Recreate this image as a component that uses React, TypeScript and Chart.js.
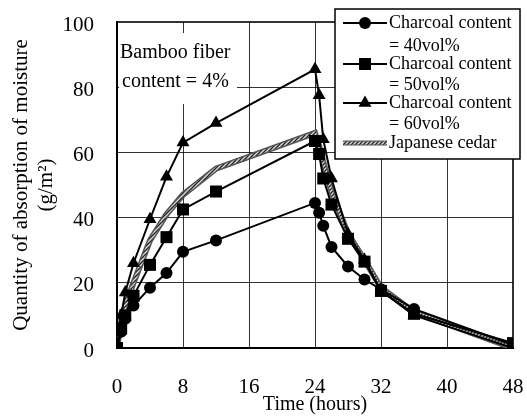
import React, { useEffect, useRef } from 'react';
import { Chart, registerables } from 'chart.js';

Chart.register(...registerables);

const timeHours = [0, 0.5, 1, 2, 4, 6, 8, 12, 24, 24.5, 25, 26, 28, 30, 32, 36, 48];
const charcoal40 = [0, 5, 9, 13, 18.5, 23, 29.5, 33, 44.5, 41.5, 37.5, 31, 25, 21, 18, 12, 1];
const charcoal50 = [0, 6, 10, 16, 25.5, 34, 42.5, 48, 63.5, 59.5, 52, 44, 33.5, 26.5, 17.5, 10.5, 1.5];
const charcoal60 = [0, 10, 17, 26, 39.5, 52.5, 63, 69, 85.5, 77.5, 64, 52, 35, 27, 17.5, 10, 0];
const japaneseCedar = [0, 8, 13, 20, 33, 41, 47, 55, 66, 62, 57, 48, 35, 27, 18.5, 11, 0];

const xTicks = [0, 8, 16, 24, 32, 40, 48];
const yTicks = [0, 20, 40, 60, 80, 100];

const label40 = ['Charcoal content', '= 40vol%'];
const label50 = ['Charcoal content', '= 50vol%'];
const label60 = ['Charcoal content', '= 60vol%'];
const labelCedar = ['Japanese cedar'];
const annotationLines = ['Bamboo fiber', 'content = 4%'];
const xTitle = 'Time (hours)';
const yTitle = ['Quantity of absorption of moisture', '(g/m\u00B2)'];

const FONT = "'Liberation Serif', 'Times New Roman', serif";

function toXY(values: number[]) {
  return timeHours.map((t, i) => ({ x: t, y: values[i] }));
}

function makePattern(): CanvasPattern | string {
  const c = document.createElement('canvas');
  c.width = 4;
  c.height = 4;
  const g = c.getContext('2d');
  if (!g) return '#888';
  g.fillStyle = '#d8d8d8';
  g.fillRect(0, 0, 4, 4);
  g.strokeStyle = '#222';
  g.lineWidth = 1.3;
  g.beginPath();
  g.moveTo(0, 4);
  g.lineTo(4, 0);
  g.moveTo(-1, 1);
  g.lineTo(1, -1);
  g.moveTo(3, 5);
  g.lineTo(5, 3);
  g.stroke();
  const p = g.createPattern(c, 'repeat');
  return p || '#888';
}

function drawMarker(ctx: CanvasRenderingContext2D, style: string, x: number, y: number, r: number) {
  ctx.beginPath();
  if (style === 'circle') {
    ctx.arc(x, y, r, 0, Math.PI * 2);
  } else if (style === 'rect') {
    const s = Math.SQRT1_2 * r;
    ctx.rect(x - s, y - s, 2 * s, 2 * s);
  } else if (style === 'triangle') {
    ctx.moveTo(x, y - r);
    ctx.lineTo(x + r * 0.866, y + r * 0.5);
    ctx.lineTo(x - r * 0.866, y + r * 0.5);
    ctx.closePath();
  }
  ctx.fill();
}

export default function App() {
  const ref = useRef<HTMLCanvasElement | null>(null);

  useEffect(() => {
    document.body.style.margin = '0';
    const canvas = ref.current;
    if (!canvas) return;
    const pattern = makePattern();

    const legendItems = [
      { lines: label40, style: 'circle', r: 6 },
      { lines: label50, style: 'rect', r: 8.5 },
      { lines: label60, style: 'triangle', r: 7.5 },
    ];

    const overlayPlugin = {
      id: 'overlay',
      afterDraw(chart: any) {
        const ctx: CanvasRenderingContext2D = chart.ctx;
        ctx.save();
        // annotation with white background hiding the grid behind it
        ctx.fillStyle = '#fff';
        ctx.fillRect(119, 33, 118, 71);
        ctx.fillStyle = '#000';
        ctx.font = `20px ${FONT}`;
        ctx.textBaseline = 'middle';
        ctx.textAlign = 'left';
        ctx.fillText(annotationLines[0], 120, 53);
        ctx.fillText(annotationLines[1], 122, 82);

        const bx = 335, by = 9, bw = 185, bh = 150;
        ctx.fillStyle = '#fff';
        ctx.fillRect(bx, by, bw, bh);
        ctx.strokeStyle = '#000';
        ctx.lineWidth = 1.5;
        ctx.strokeRect(bx, by, bw, bh);

        ctx.font = `18px ${FONT}`;
        const rowYs = [[23, 46], [64, 85], [103, 124]];
        legendItems.forEach((item, i) => {
          const y = rowYs[i][0];
          ctx.strokeStyle = '#000';
          ctx.lineWidth = 2;
          ctx.beginPath();
          ctx.moveTo(343, y);
          ctx.lineTo(387, y);
          ctx.stroke();
          ctx.fillStyle = '#000';
          drawMarker(ctx, item.style, 365, y, item.r);
          ctx.fillText(item.lines[0], 389, rowYs[i][0]);
          ctx.fillText(item.lines[1], 389, rowYs[i][1]);
        });
        const cy = 143;
        ctx.lineCap = 'butt';
        ctx.strokeStyle = '#555';
        ctx.lineWidth = 5;
        ctx.beginPath();
        ctx.moveTo(343, cy);
        ctx.lineTo(387, cy);
        ctx.stroke();
        ctx.strokeStyle = pattern as any;
        ctx.lineWidth = 3;
        ctx.beginPath();
        ctx.moveTo(343, cy);
        ctx.lineTo(387, cy);
        ctx.stroke();
        ctx.fillStyle = '#000';
        ctx.fillText(labelCedar[0], 389, cy);
        ctx.restore();
      },
    };

    const tickFont = { family: FONT, size: 21 };

    const chart = new Chart(canvas, {
      type: 'line',
      data: {
        datasets: [
          {
            label: label60.join(' '),
            data: toXY(charcoal60),
            borderColor: '#000',
            backgroundColor: '#000',
            borderWidth: 2,
            pointStyle: 'triangle',
            pointRadius: 7.5,
            pointBorderWidth: 0,
            order: 1,
          },
          {
            label: label50.join(' '),
            data: toXY(charcoal50),
            borderColor: '#000',
            backgroundColor: '#000',
            borderWidth: 2,
            pointStyle: 'rect',
            pointRadius: 8.5,
            pointBorderWidth: 0,
            order: 2,
          },
          {
            label: label40.join(' '),
            data: toXY(charcoal40),
            borderColor: '#000',
            backgroundColor: '#000',
            borderWidth: 2,
            pointStyle: 'circle',
            pointRadius: 6,
            pointBorderWidth: 0,
            order: 3,
          },
          {
            label: labelCedar[0] + ' fill',
            data: toXY(japaneseCedar),
            borderColor: pattern as any,
            borderWidth: 3,
            pointRadius: 0,
            order: 4,
          },
          {
            label: labelCedar[0],
            data: toXY(japaneseCedar),
            borderColor: '#555',
            borderWidth: 6,
            pointRadius: 0,
            order: 5,
          },
        ],
      },
      options: {
        responsive: false,
        animation: false,
        layout: { padding: { top: 22, right: 14, left: 0, bottom: 0 } },
        plugins: {
          legend: { display: false },
          tooltip: { enabled: false },
        },
        scales: {
          x: {
            type: 'linear',
            min: 0,
            max: 48,
            afterBuildTicks: (s: any) => {
              s.ticks = xTicks.map((v) => ({ value: v }));
            },
            afterFit: (s: any) => {
              s.height = 69;
              s.paddingLeft = 0;
              s.paddingRight = 0;
            },
            ticks: {
              font: tickFont,
              color: '#000',
              padding: 27,
              maxRotation: 0,
              autoSkip: false,
            },
            grid: {
              color: 'rgba(0,0,0,0.8)',
              lineWidth: (c: any) => (c.tick && c.tick.value === 48 ? 2 : 1),
              drawTicks: false,
            },
            border: { display: true, color: '#000', width: 2 },
            title: {
              display: true,
              text: xTitle,
              font: { family: FONT, size: 20 },
              color: '#000',
              padding: { top: 0, bottom: 0 },
            },
          },
          y: {
            type: 'linear',
            min: 0,
            max: 100,
            afterBuildTicks: (s: any) => {
              s.ticks = yTicks.map((v) => ({ value: v }));
            },
            afterFit: (s: any) => {
              s.width = 117;
              s.paddingTop = 0;
              s.paddingBottom = 0;
            },
            ticks: {
              font: tickFont,
              color: '#000',
              padding: 23,
              labelOffset: 3,
              autoSkip: false,
            },
            grid: {
              color: 'rgba(0,0,0,0.8)',
              lineWidth: (c: any) => (c.tick && c.tick.value === 100 ? 2 : 1),
              drawTicks: false,
            },
            border: { display: true, color: '#000', width: 2 },
            title: {
              display: true,
              text: yTitle,
              font: { family: FONT, size: 21, lineHeight: 1.2 },
              color: '#000',
              padding: { top: 9, bottom: 0 },
            },
          },
        },
      },
      plugins: [overlayPlugin],
    } as any);

    return () => {
      chart.destroy();
    };
  }, []);

  return (
    <div style={{ width: 527, height: 417 }}>
      <canvas ref={ref} width={527} height={417} style={{ display: 'block', width: 527, height: 417 }} />
    </div>
  );
}
